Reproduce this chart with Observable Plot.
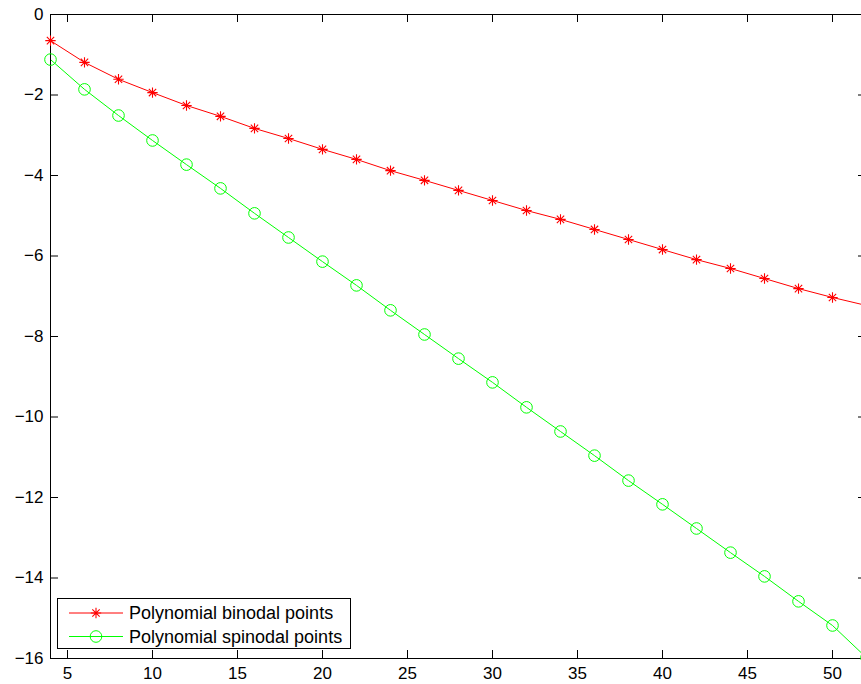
<!DOCTYPE html>
<html>
<head>
<meta charset="utf-8">
<script src="https://cdn.jsdelivr.net/npm/d3@7"></script>
<script src="https://cdn.jsdelivr.net/npm/@observablehq/plot@0.6"></script>
<style>
  html, body { margin: 0; padding: 0; background: white; overflow: hidden; }
  #wrap { position: relative; width: 861px; height: 684px; overflow: hidden; }
  #legend { position: absolute; left: 0; top: 0; }
</style>
</head>
<body>
<div id="wrap"></div>
<script>
// ---- data ----
const xValues = [4, 6, 8, 10, 12, 14, 16, 18, 20, 22, 24, 26, 28, 30, 32, 34, 36, 38, 40, 42, 44, 46, 48, 50, 52];
const binodal = [-0.65, -1.19, -1.61, -1.94, -2.26, -2.53, -2.83, -3.08, -3.35, -3.60, -3.88, -4.12, -4.37, -4.62, -4.87, -5.09, -5.34, -5.59, -5.84, -6.09, -6.31, -6.56, -6.81, -7.03, -7.23];
const spinodal = [-1.12, -1.86, -2.51, -3.13, -3.73, -4.32, -4.94, -5.54, -6.14, -6.73, -7.35, -7.95, -8.55, -9.14, -9.76, -10.36, -10.96, -11.58, -12.17, -12.77, -13.37, -13.96, -14.58, -15.18, -15.98];
const seriesNames = ["Polynomial binodal points", "Polynomial spinodal points"];
const xTicks = [5, 10, 15, 20, 25, 30, 35, 40, 45, 50];
const yTicks = [0, -2, -4, -6, -8, -10, -12, -14, -16];

const RED = "#ff0000", GREEN = "#00ff00";
const FONT = "'Liberation Sans', Arial, Helvetica, sans-serif";

const binData = xValues.map((x, i) => ({x, y: binodal[i]}));
const spiData = xValues.map((x, i) => ({x, y: spinodal[i]}));

// MATLAB-like '*' marker
const asterisk = {
  draw(ctx, size) {
    const r = Math.sqrt(size / Math.PI);
    const d = r * Math.SQRT1_2;
    ctx.moveTo(-r, 0); ctx.lineTo(r, 0);
    ctx.moveTo(0, -r); ctx.lineTo(0, r);
    ctx.moveTo(-d, -d); ctx.lineTo(d, d);
    ctx.moveTo(-d, d); ctx.lineTo(d, -d);
  }
};

const W = 861, H = 684;
const mL = 50, mR = -5, mT = 14, mB = 26;
const fW = W - mL - mR, fH = H - mT - mB;
const TICK = 8;

const chart = Plot.plot({
  width: W, height: H,
  marginLeft: mL, marginRight: mR, marginTop: mT, marginBottom: mB,
  style: {fontFamily: FONT, fontSize: "17px", color: "black", background: "white"},
  x: {domain: [4, 52]},
  y: {domain: [-16, 0]},
  marks: [
    Plot.line(binData, {x: "x", y: "y", stroke: RED, strokeWidth: 1, clip: true}),
    Plot.line(spiData, {x: "x", y: "y", stroke: GREEN, strokeWidth: 1, clip: true}),
    // inward ticks on all four sides
    Plot.ruleX(xTicks, {x: d => d, insetTop: fH - TICK, stroke: "black"}),
    Plot.ruleX(xTicks, {x: d => d, insetBottom: fH - TICK, stroke: "black"}),
    Plot.ruleY(yTicks, {y: d => d, insetRight: fW - TICK, stroke: "black"}),
    Plot.ruleY(yTicks, {y: d => d, insetLeft: fW - TICK, stroke: "black"}),
    Plot.frame({stroke: "black", strokeWidth: 1}),
    Plot.dot(binData, {x: "x", y: "y", symbol: asterisk, r: 5.2, stroke: RED, strokeWidth: 1.1}),
    Plot.dot(spiData, {x: "x", y: "y", symbol: "circle", r: 5.8, stroke: GREEN, fill: "none", strokeWidth: 1}),
    Plot.axisX({ticks: xTicks, tickSize: 0, tickPadding: 8, label: null, fontSize: 17}),
    Plot.axisY({ticks: yTicks, tickSize: 0, tickPadding: 7, label: null, fontSize: 17})
  ]
});

const wrap = document.getElementById("wrap");
wrap.appendChild(chart);

// legend overlay
const leg = d3.select(wrap).append("svg")
  .attr("id", "legend")
  .attr("width", W).attr("height", H)
  .style("pointer-events", "none");
leg.append("rect").attr("x", 57.5).attr("y", 598.5).attr("width", 293).attr("height", 50)
  .attr("fill", "white").attr("stroke", "black").attr("stroke-width", 1);
const rows = [
  {name: seriesNames[0], color: RED, sym: asterisk, r: 5.2, sw: 1.1, cy: 613},
  {name: seriesNames[1], color: GREEN, sym: d3.symbolCircle, r: 5.8, sw: 1, cy: 636.5}
];
rows.forEach(rw => {
  leg.append("line").attr("x1", 69).attr("x2", 123).attr("y1", rw.cy).attr("y2", rw.cy)
    .attr("stroke", rw.color).attr("stroke-width", 1);
  leg.append("path").attr("d", d3.symbol(rw.sym, rw.r * rw.r * Math.PI)())
    .attr("transform", `translate(96,${rw.cy})`)
    .attr("fill", "none").attr("stroke", rw.color).attr("stroke-width", rw.sw);
  leg.append("text").attr("x", 129).attr("y", rw.cy).attr("dy", "0.35em")
    .attr("font-family", FONT).attr("font-size", 18).attr("fill", "black").text(rw.name);
});
</script>
</body>
</html>
